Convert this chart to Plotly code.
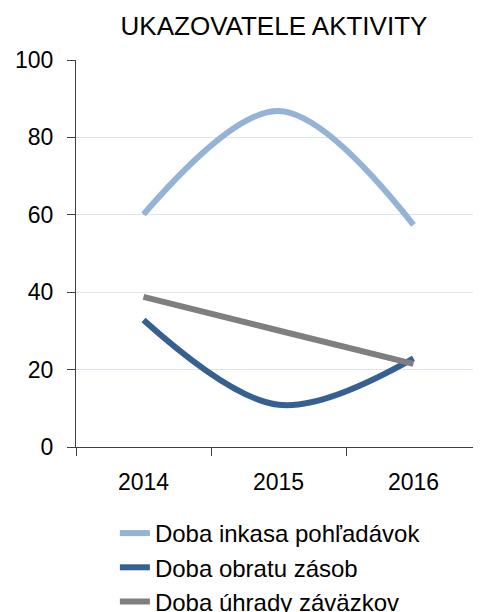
import plotly.graph_objects as go

years = ["2014", "2015", "2016"]
inkasa = [60.1, 86.8, 57.4]
obrat = [32.8, 10.9, 22.9]
uhrada = [38.8, 30.1, 21.5]

series_names = ["Doba inkasa pohľadávok", "Doba obratu zásob", "Doba úhrady záväzkov"]
series_colors = ["#95b3d7", "#376092", "#7f7f7f"]

FONT = "Liberation Sans, Arial, sans-serif"

# page body has an 8px margin, so the figure is a bit smaller than the window
W, H = 473, 604

fig = go.Figure()

for i, (name, vals, color) in enumerate(zip(series_names, [inkasa, obrat, uhrada], series_colors)):
    fig.add_trace(go.Scatter(
        x=years,
        y=vals,
        mode='lines',
        name=name,
        legendgroup=f"g{i}",
        line=dict(color=color, width=6, shape='spline', smoothing=1.0),
    ))

fig.update_layout(
    width=W,
    height=H,
    paper_bgcolor='white',
    plot_bgcolor='white',
    margin=dict(l=68, r=0, t=52, b=165),
    font=dict(family=FONT, color='black'),
    title=dict(
        text="UKAZOVATELE AKTIVITY",
        font=dict(size=26, family=FONT, color='black'),
        x=266 / W, xanchor='center',
        y=1 - 18 / H, yanchor='middle',
    ),
    showlegend=True,
    legend=dict(
        orientation='v',
        x=0.096, xanchor='left',
        y=(H - 503) / H, yanchor='top',
        yref='container',
        font=dict(size=24, family=FONT, color='black'),
        tracegroupgap=0,
        itemwidth=30,
    ),
    xaxis=dict(
        type='category',
        range=[-0.5, 2.5],
        tickson='boundaries',
        ticks='outside',
        ticklen=8,
        tickcolor='#404040',
        showline=True,
        linecolor='#404040',
        linewidth=1,
        showgrid=False,
        automargin=False,
        tickfont=dict(size=23, family=FONT, color='black'),
        ticklabelstandoff=14,
        fixedrange=True,
    ),
    yaxis=dict(
        range=[0, 100],
        dtick=20,
        ticks='outside',
        ticklen=8,
        tickcolor='#404040',
        showline=True,
        linecolor='#404040',
        linewidth=1,
        showgrid=True,
        gridcolor='#dde4f0',
        gridwidth=1,
        zeroline=False,
        automargin=False,
        tickfont=dict(size=23, family=FONT, color='black'),
        ticklabelstandoff=9,
        fixedrange=True,
    ),
)

fig.write_html("out.html")
